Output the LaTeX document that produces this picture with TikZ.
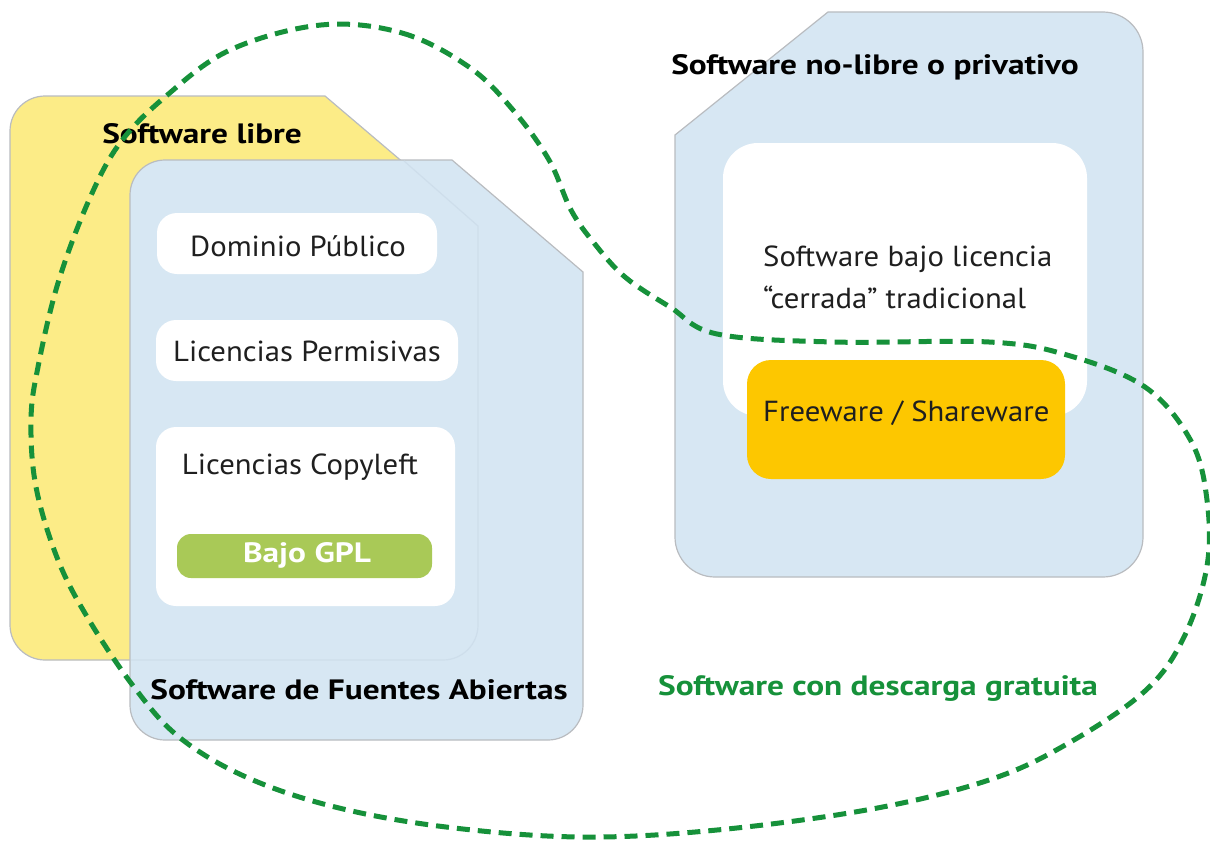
\documentclass[tikz,border=0pt]{standalone}
\usepackage{fontspec}
\setmainfont{PT Sans}
\usetikzlibrary{calc}
\definecolor{yel}{RGB}{252,236,135}
\definecolor{lblue}{RGB}{215,231,243}
\definecolor{edge}{RGB}{185,188,192}
\definecolor{faint}{RGB}{206,222,235}
\definecolor{gpl}{RGB}{169,201,87}
\definecolor{orng}{RGB}{253,199,0}
\definecolor{dgreen}{RGB}{22,145,58}
\begin{document}
\begin{tikzpicture}[x=1pt,y=-1pt,
  panel/.style={draw=edge,line width=1.2pt},
  wbox/.style={fill=white,rounded corners=20pt},
  reg/.style={font=\fontsize{29}{34}\selectfont,text=black!88,inner sep=0pt,xscale=1.06,transform shape},
  ttl/.style={font=\fontsize{28}{33}\selectfont\bfseries,text=black,inner sep=0pt,xscale=1.19,transform shape},
  lasso/.style={draw=dgreen,line width=5pt,dash pattern=on 13pt off 8pt}]
\useasboundingbox (0,0) rectangle (1210,843);
% Software libre (yellow)
\path[panel,fill=yel] (10,131) arc[start angle=180,end angle=270,radius=35] -- (325,96) -- (478,226)
  -- (478,625) arc[start angle=0,end angle=90,radius=35] -- (45,660) arc[start angle=90,end angle=180,radius=35] -- cycle;
% Fuentes abiertas (blue)
\path[panel,fill=lblue] (130,195) arc[start angle=180,end angle=270,radius=35] -- (452,160) -- (583,272)
  -- (583,705) arc[start angle=0,end angle=90,radius=35] -- (165,740) arc[start angle=90,end angle=180,radius=35] -- cycle;
% faint outline of the yellow panel seen through
\draw[faint,line width=1.2pt] (404,161) -- (478,226) -- (478,625) arc[start angle=0,end angle=90,radius=35] -- (131,660);
% inner boxes
\path[wbox] (157,213) rectangle (437,274);
\path[wbox] (156,320) rectangle (458,381);
\path[wbox] (156,427) rectangle (455,606);
\path[fill=gpl,rounded corners=14pt] (177,534) rectangle (432,578);
% privativo (blue)
\path[panel,fill=lblue] (675,135) -- (828,12) -- (1103,12) arc[start angle=270,end angle=360,radius=40]
  -- (1143,537) arc[start angle=0,end angle=90,radius=40] -- (715,577) arc[start angle=90,end angle=180,radius=40] -- cycle;
\path[fill=white,rounded corners=35pt] (723,143) rectangle (1087,416);
\path[fill=orng,rounded corners=24pt] (747,360) rectangle (1065,479);
% texts
\node[ttl] (libre) at (202,134) {Software libre};
\node[reg] (dom) at (298,246) {Dominio Público};
\node[reg] (perm) at (307,351) {Licencias Permisivas};
\node[reg] (copy) at (300,467) {Licencias Copyleft};
\node[ttl,text=white] (gplt) at (307,555) {Bajo GPL};
\node[ttl] (foss) at (359,690) {Software de Fuentes Abiertas};
\node[ttl] (priv) at (875,67) {Software no-libre o privativo};
\node[reg,anchor=west] (cer1) at (763,259) {Software bajo licencia};
\node[reg,anchor=west] (cer2) at (763,297) {“cerrada” tradicional};
\node[reg,anchor=west] (free) at (763,413) {Freeware / Shareware};
\node[ttl,text=dgreen] (grat) at (878,688) {Software con descarga gratuita};
% dashed lasso
\draw[lasso] plot[smooth cycle,tension=0.6] coordinates {
 (321,25) (402,33) (469,67) (513,110) (549,160) (571,210) (594,243) (625,277) (670,307) (717,334)
 (833,342) (989,342) (1067,355) (1145,387) (1191,441) (1207,500) (1207,566) (1184,637) (1145,691)
 (1067,744) (989,780) (872,809) (717,830) (580,837) (446,827) (335,807) (246,777) (179,737) (134,687)
 (89,620) (58,560) (36,487) (31,420) (38,367) (58,283) (89,200) (120,143) (165,97) (230,50)};
\end{tikzpicture}
\end{document}
